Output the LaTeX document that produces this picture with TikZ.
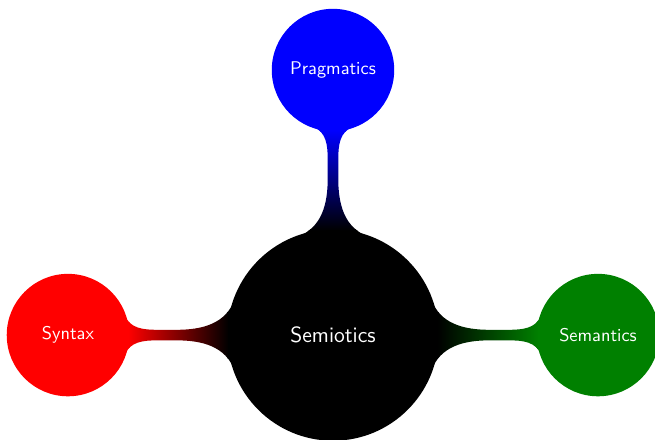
\documentclass[tikz,border=0pt]{standalone}
\usetikzlibrary{mindmap}

\begin{document}
\begin{tikzpicture}[mindmap, concept color=black, text=white,
    root concept/.append style={font=\sffamily\large},
    level 1 concept/.append style={level distance=5.07cm, minimum size=2.3cm, font=\sffamily}]
    % Fix the picture's margins
    \useasboundingbox (-6.37,-2) rectangle (6.16,6.41);

    % Root and its three branches
    \node[concept, root concept] (semiotics) {Semiotics}
        child[grow=90, concept color=blue] {node[concept] (pragmatics) {Pragmatics}}
        child[grow=180, concept color=red] {node[concept] (syntax) {Syntax}}
        child[grow=0, concept color=green!50!black] {node[concept] (semantics) {Semantics}};
\end{tikzpicture}
\end{document}
